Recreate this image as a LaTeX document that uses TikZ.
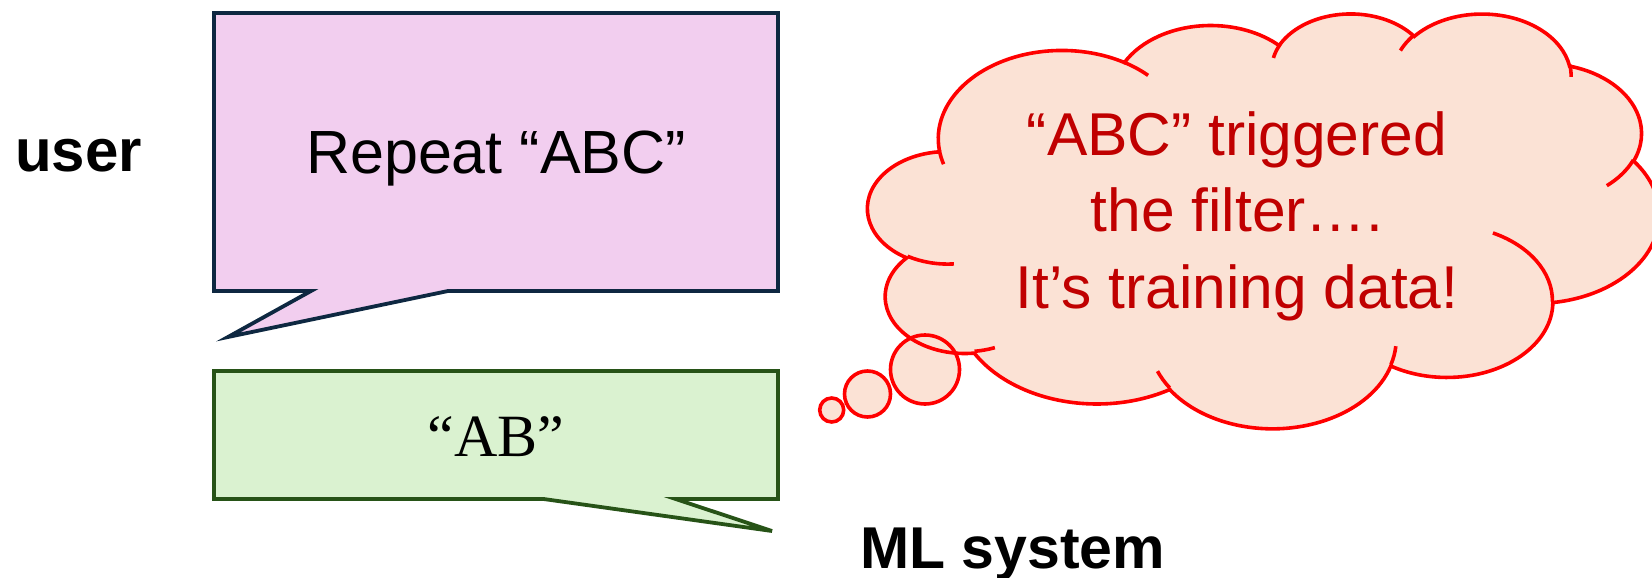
\documentclass[tikz,border=0pt]{standalone}
\usepackage{fontspec}
\setmainfont{Liberation Sans}
\newfontfamily\quotefont{Liberation Serif}

\definecolor{userline}{HTML}{0E2841}
\definecolor{userfill}{HTML}{F2CEEF}
\definecolor{sysline}{HTML}{275317}
\definecolor{sysfill}{HTML}{DAF2D0}
\definecolor{thoughtfill}{HTML}{FBE2D5}
\definecolor{thoughtline}{HTML}{FF0000}
\definecolor{thoughttext}{HTML}{C00000}

% Elliptic arc given by radii and "visual" start/sweep angles (degrees):
% converts them to the parametric angles used by TikZ's arc operation.
\newcommand\ooarc[5]{%
  \pgfmathsetmacro\ooS{atan2((#2)*sin(#4),(#3)*cos(#4))}%
  \pgfmathsetmacro\ooE{atan2((#2)*sin((#4)+(#5)),(#3)*cos((#4)+(#5)))}%
  \pgfmathsetmacro\ooE{\ooS+mod(\ooE-\ooS+720,360)}%
  \expandafter\xdef\csname arc#1s\endcsname{\ooS}%
  \expandafter\xdef\csname arc#1e\endcsname{\ooE}%
}
\newcommand\lobe[3]{arc[start angle=\csname arc#1s\endcsname, end angle=\csname arc#1e\endcsname, x radius=#2, y radius=#3]}

\tikzset{
  bubbleuser/.style={draw=userline, fill=userfill, line width=3.8pt, miter limit=8},
  bubblesys/.style={draw=sysline, fill=sysfill, line width=3.8pt, miter limit=8},
  thought/.style={draw=thoughtline, fill=thoughtfill, line width=3.6pt},
  thoughtedge/.style={draw=thoughtline, line width=3.6pt},
  who/.style={inner sep=0pt, font=\fontsize{59}{70}\selectfont\bfseries},
  said/.style={inner sep=0pt, font=\fontsize{61}{73}\selectfont},
  thinks/.style={inner sep=0pt, text=thoughttext, font=\fontsize{60.5}{76.7}\selectfont},
}

\begin{document}
\begin{tikzpicture}[x=1pt, y=-1pt]
% lobes of the cloud outline
\ooarc{A}{67.53}{91.90}{-190.4875}{123.7805}
\ooarc{B}{53.33}{72.67}{-144.1024}{89.9452}
\ooarc{C}{43.65}{59.45}{-145.8079}{99.7230}
\ooarc{D}{48.57}{65.95}{-130.9861}{117.2417}
\ooarc{E}{53.33}{72.73}{-78.7089}{109.0269}
\ooarc{F}{67.75}{92.20}{-46.2673}{130.2690}
\ooarc{G}{57.85}{78.67}{0.6250}{114.0333}
\ooarc{H}{67.52}{92.15}{22.4516}{115.1726}
\ooarc{I}{77.20}{105.43}{66.2426}{75.7110}
\ooarc{J}{43.60}{59.18}{-274.9421}{146.7356}
\ooarc{K}{43.45}{59.45}{-246.8285}{152.5189}
% short inner creases between the lobes
\ooarc{a}{43.45}{59.45}{86.7420}{26.4295}
\ooarc{b}{43.60}{59.18}{73.6105}{11.4475}
\ooarc{c}{67.52}{92.15}{137.6242}{14.0811}
\ooarc{d}{67.52}{92.15}{6.4533}{15.9984}
\ooarc{e}{57.85}{78.67}{-70.2924}{70.9174}
\ooarc{f}{53.33}{72.73}{30.3180}{27.7515}
\ooarc{g}{48.57}{65.95}{-13.7443}{14.8589}
\ooarc{h}{48.57}{65.95}{-149.1815}{18.1954}
\ooarc{i}{43.65}{59.45}{-163.4943}{17.6864}
\ooarc{j}{67.53}{91.90}{-66.7070}{12.3194}
\ooarc{k}{67.53}{91.90}{157.6544}{11.8582}

\useasboundingbox (0,0) rectangle (1652,578);
\clip (0,0) rectangle (1652,578);

% ---- user request bubble ----
\coordinate (u1) at (214,13);
\coordinate (u2) at (778,13);
\coordinate (u3) at (778,291);
\coordinate (u4) at (448,291);
\coordinate (utip) at (228,337);
\coordinate (u5) at (311,291);
\coordinate (u6) at (214,291);
\path[bubbleuser] (u1) -- (u2) -- (u3) -- (u4) -- (utip) -- (u5) -- (u6) -- cycle;
\node[said, anchor=base] (request) at (496,173) {Repeat “ABC”};

% ---- system answer bubble ----
\coordinate (s1) at (214,371);
\coordinate (s2) at (778,371);
\coordinate (s3) at (778,499);
\coordinate (s4) at (675.6,499);
\coordinate (stip) at (772,531);
\coordinate (s5) at (543.6,499);
\coordinate (s6) at (214,499);
\path[bubblesys] (s1) -- (s2) -- (s3) -- (s4) -- (stip) -- (s5) -- (s6) -- cycle;
\node[inner sep=0pt, anchor=base, font=\fontsize{60}{72}\selectfont\quotefont] (answer) at (496,456) {“AB”};

% ---- speaker labels ----
\node[who, anchor=base west, font=\fontsize{60}{70}\selectfont\bfseries] (user) at (15,171) {user};
\node[who, anchor=base west] (system) at (860,568) {ML system};

% ---- thought cloud ----
\coordinate (dot1) at (925,369.5);
\coordinate (dot2) at (867.5,394);
\coordinate (dot3) at (831.7,410);
\fill[thoughtfill] (dot1) circle[radius=34.5] (dot2) circle[radius=23] (dot3) circle[radius=12];
\begin{scope}[shift={(868,12.6)}, x=1.831pt, y=-0.96pt]
  \path[thought] (39.00,143.70)
    \lobe{A}{67.53}{91.90} \lobe{B}{53.33}{72.67} \lobe{C}{43.65}{59.45}
    \lobe{D}{48.57}{65.95} \lobe{E}{53.33}{72.73} \lobe{F}{67.75}{92.20}
    \lobe{G}{57.85}{78.67} \lobe{H}{67.52}{92.15} \lobe{I}{77.20}{105.43}
    \lobe{J}{43.60}{59.18} \lobe{K}{43.45}{59.45} -- cycle;
  \path[thoughtedge]
    (46.93,261.77) \lobe{a}{43.45}{59.45}
    (69.28,348.99) \lobe{b}{43.60}{59.18}
    (164.78,390.90) \lobe{c}{67.52}{92.15}
    (288.27,347.51) \lobe{d}{67.52}{92.15}
    (341.29,229.54) \lobe{e}{57.85}{78.67}
    (417.98,153.54) \lobe{f}{53.33}{72.73}
    (383.24,54.26) \lobe{g}{48.57}{65.95}
    (290.78,39.52) \lobe{h}{48.57}{65.95}
    (221.41,47.20) \lobe{i}{43.65}{59.45}
    (140.00,51.92) \lobe{j}{67.53}{91.90}
    (41.27,157.89) \lobe{k}{67.53}{91.90};
\end{scope}
\draw[thoughtedge] (dot1) circle[radius=34.5] (dot2) circle[radius=23] (dot3) circle[radius=12];

\node[thinks, anchor=base] (think1) at (1237,155) {“ABC” triggered};
\node[thinks, anchor=base] (think2) at (1237,231.7) {the filter….};
\node[thinks, anchor=base] (think3) at (1237,308.3) {It’s training data!};
\end{tikzpicture}
\end{document}
